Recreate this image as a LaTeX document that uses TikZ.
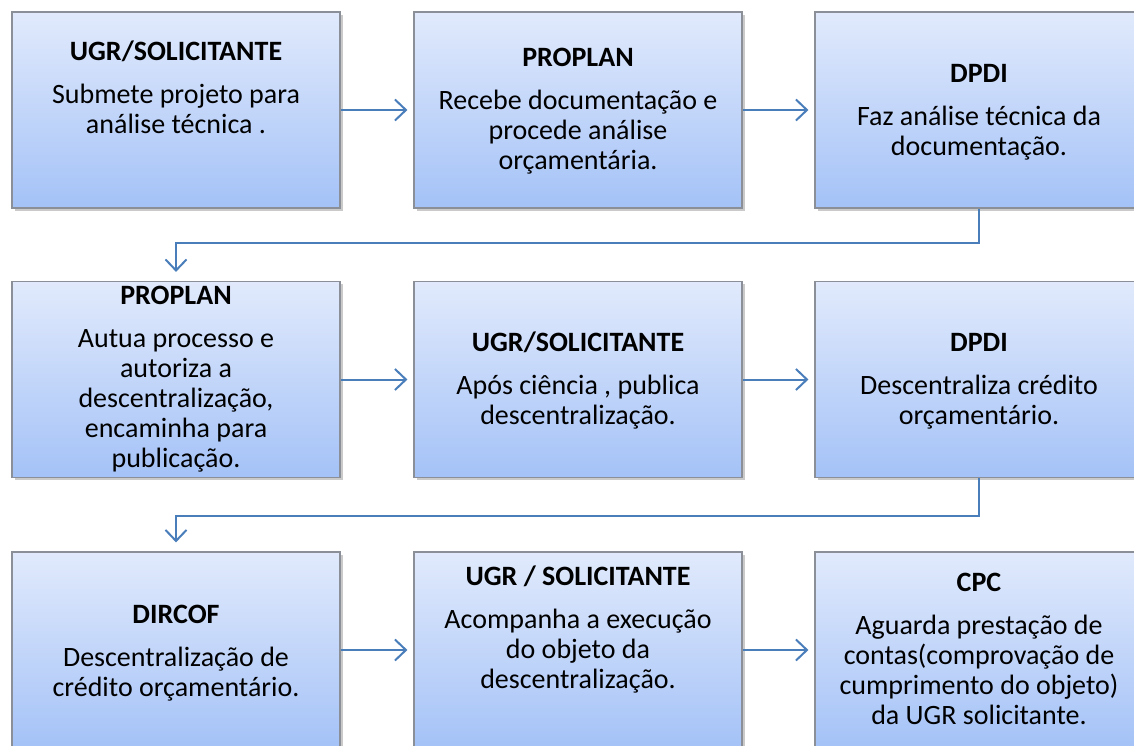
\documentclass[tikz,border=0pt]{standalone}
\usepackage{fontspec}
\setmainfont{Carlito}
\usetikzlibrary{arrows.meta,shadows}
\definecolor{boxtop}{HTML}{E1EAFC}
\definecolor{boxbot}{HTML}{A4C2F7}
\definecolor{boxborder}{HTML}{8A8F98}
\definecolor{linkblue}{HTML}{4A7EBB}
\newcommand\mylblfont{\fontsize{28}{30}\selectfont\lineskiplimit=-40pt\relax}
\begin{document}
\begin{tikzpicture}[x=1pt,y=-1pt,
  box/.style={draw=boxborder, line width=1.2pt, top color=boxtop, bottom color=boxbot,
    minimum width=328pt, minimum height=196pt, inner sep=0pt,
    drop shadow={shadow xshift=2.5pt,shadow yshift=-2.5pt,opacity=0.35,fill=black!60}},
  lbl/.style={align=center, font=\mylblfont, inner sep=0pt, anchor=base},
  arr/.style={draw=linkblue, line width=2pt, -{Straight Barb[length=11pt,width=21pt,line width=2pt]}},
]
\useasboundingbox (0,0) rectangle (1134,745);
\clip (0,0) rectangle (1134,745);

% boxes
\node[box] (b1) at (176,110) {};
\node[box] (b2) at (578,110) {};
\node[box] (b3) at (979,110) {};
\node[box] (b4) at (176,379.5) {};
\node[box] (b5) at (578,379.5) {};
\node[box] (b6) at (979,379.5) {};
\node[box] (b7) at (176,650) {};
\node[box] (b8) at (578,650) {};
\node[box] (b9) at (979,650) {};

% texts (anchored at the baseline of their last line)
\node[lbl] (t1) at (176,133) {\textbf{UGR/SOLICITANTE}\\[13pt]Submete projeto para\\análise técnica .};
\node[lbl] (t2) at (578,169) {\textbf{PROPLAN}\\[13pt]Recebe documentação e\\procede análise\\orçamentária.};
\node[lbl] (t3) at (979,155) {\textbf{DPDI}\\[13pt]Faz análise técnica da\\documentação.};
\node[lbl] (t4) at (176,467) {\textbf{PROPLAN}\\[13pt]Autua processo e\\autoriza a\\descentralização,\\encaminha para\\publicação.};
\node[lbl] (t5) at (578,424) {\textbf{UGR/SOLICITANTE}\\[13pt]Após ciência , publica\\descentralização.};
\node[lbl] (t6) at (979,424) {\textbf{DPDI}\\[13pt]Descentraliza crédito\\orçamentário.};
\node[lbl] (t7) at (176,696) {\textbf{DIRCOF}\\[13pt]Descentralização de\\crédito orçamentário.};
\node[lbl] (t8) at (578,688) {\textbf{UGR / SOLICITANTE}\\[13pt]Acompanha a execução\\do objeto da\\descentralização.};
\node[lbl] (t9) at (979,724) {\textbf{CPC}\\[13pt]Aguarda prestação de\\contas(comprovação de\\cumprimento do objeto)\\da UGR solicitante.};

% connectors
\draw[arr, shorten >=6pt] (b1.east) -- (b2.west);
\draw[arr, shorten >=6pt] (b2.east) -- (b3.west);
\draw[arr, shorten >=6pt] (b4.east) -- (b5.west);
\draw[arr, shorten >=6pt] (b5.east) -- (b6.west);
\draw[arr, shorten >=6pt] (b7.east) -- (b8.west);
\draw[arr, shorten >=6pt] (b8.east) -- (b9.west);
\coordinate (e1) at (979,243);
\coordinate (e2) at (979,516);
\draw[arr, shorten >=9pt] (b3.south) -- (e1) -| (b4.north);
\draw[arr, shorten >=9pt] (b6.south) -- (e2) -| (b7.north);
\end{tikzpicture}
\end{document}
